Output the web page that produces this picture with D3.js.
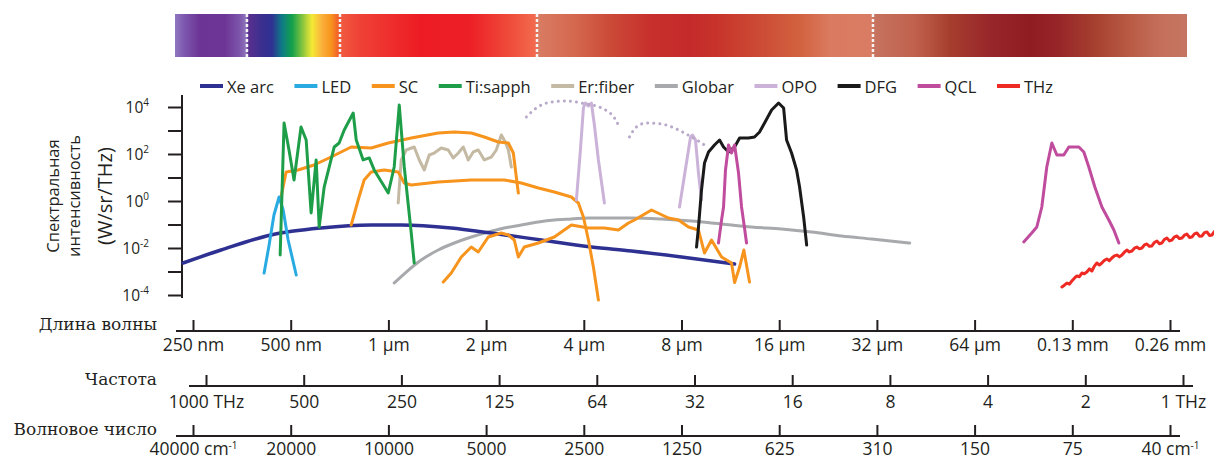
<!DOCTYPE html>
<html><head><meta charset="utf-8">
<script src="https://cdn.jsdelivr.net/npm/d3@7"></script>
<style>
body{margin:0;background:#fff;}
svg{display:block;}
</style></head><body>
<svg id="chart" width="1214" height="462"></svg>
<script>
// ---------------- DATA ----------------
const seriesNames  = ["Xe arc","LED","SC","Ti:sapph","Er:fiber","Globar","OPO","DFG","QCL","THz"];
const seriesColors = ["#2e3192","#29abe2","#f7941d","#1f9e4a","#c4b9a2","#a7a9ac","#cbb2d8","#1a1a1a","#c04c9e","#ee2a24"];

// wavelength in µm, spectral intensity in W/sr/THz
const xeArc = [[0.233,2.3e-3],[0.305,8.2e-3],[0.435,3.6e-2],[0.62,7.1e-2],[0.885,9.5e-2],[1.095,9.5e-2],[1.56,7.1e-2],[2.07,4.35e-2],[2.96,2.19e-2],[4.22,1.1e-2],[5.61,7.45e-3],[8.0,4.14e-3],[11.66,2.08e-3]];
const led = [[0.414,8.6e-4],[0.429,1.34e-2],[0.444,0.254],[0.4605,1.48],[0.474,0.414],[0.491,2.19e-2],[0.52,7.1e-4]];
const scUpper = [[0.467,1.48],[0.484,17.1],[0.527,20.8],[0.59,34],[0.666,74.5],[0.768,199],[0.885,180],[0.999,294],[1.176,480],[1.424,783],[1.596,863],[1.80,783],[1.975,528],[2.181,324],[2.342,294],[2.426,110],[2.478,10.5],[2.514,2.19]];
const scMiddle = [[0.768,0.0953],[0.807,1.10],[0.842,7.83],[0.885,17.1],[0.971,20.8],[1.072,17.1],[1.119,5.83],[1.176,4.80],[1.424,6.44],[1.80,7.83],[2.276,7.83],[2.568,5.83],[2.898,3.57],[3.246,2.41],[3.663,1.48],[3.849,0.822],[3.989,0.208],[4.133,0.0219],[4.282,1.55e-3],[4.437,6.1e-5]];
const scLower = [[1.476,3.57e-4],[1.562,8.6e-4],[1.677,4.14e-3],[1.80,0.011],[1.892,6.76e-3],[2.031,0.0294],[2.228,0.0435],[2.342,0.0357],[2.443,0.0219],[2.514,4.14e-3],[2.623,0.011],[2.898,0.0163],[3.246,0.0294],[3.412,0.048],[3.663,0.0953],[4.133,0.071],[4.63,0.071],[5.114,0.0583],[5.491,0.116],[5.73,0.155],[6.466,0.414],[7.295,0.189],[7.831,0.155],[8.407,0.0783],[9.025,0.0583],[9.418,6.1e-3],[9.898,0.0219],[10.63,4.14e-3],[11.41,2.3e-3],[11.66,3.4e-4],[12.08,1.55e-3],[12.45,8.2e-3],[12.96,3.57e-4]];
const tiSapph = [[0.464,5.0e-3],[0.477,2100],[0.494,148],[0.512,7.8],[0.538,1400],[0.558,394],[0.578,0.31],[0.599,56],[0.612,0.078],[0.634,3.9],[0.681,199],[0.705,294],[0.731,1050],[0.779,5560],[0.796,394],[0.836,56],[0.873,68],[0.904,21],[0.999,2.19],[1.042,28],[1.080,12160],[1.119,28],[1.176,0.0435],[1.201,2.3e-3]];
const erFiber = [[1.072,0.822],[1.095,55.6],[1.135,148],[1.201,199],[1.245,55.6],[1.29,20.8],[1.336,90.6],[1.384,110],[1.455,180],[1.529,148],[1.584,67.6],[1.642,110],[1.701,199],[1.762,55.6],[1.826,122],[1.892,148],[1.975,55.6],[2.075,74.5],[2.15,148],[2.228,644],[2.292,324],[2.342,148],[2.392,28]];
const globar = [[1.042,3.24e-4],[1.135,9.5e-4],[1.262,3.08e-3],[1.424,8.2e-3],[1.596,0.0163],[1.80,0.0294],[2.031,0.048],[2.276,0.071],[2.568,0.0953],[2.898,0.128],[3.246,0.155],[3.663,0.171],[4.133,0.189],[4.865,0.189],[5.61,0.189],[6.94,0.171],[8.589,0.141],[10.63,0.105],[13.15,0.0783],[16.27,0.0644],[20.14,0.048],[24.92,0.0324],[30.83,0.0242],[40.39,0.0163]];
const opoPeakA = [[3.795,1.10],[3.905,148],[3.989,9060],[4.045,14800],[4.133,11000],[4.222,14800],[4.312,1714],[4.437,55.6],[4.63,0.822]];
const opoPeakB = [[7.888,0.556],[8.173,12.8],[8.407,148],[8.528,528],[8.65,644],[8.836,394],[9.025,15.5],[9.22,1.10]];
const opoTuneA = [[2.661,3750],[2.857,9060],[3.178,16300],[3.535,18000],[3.932,14800],[4.532,9060],[4.971,3400],[5.151,1409]];
const opoTuneB = [[5.53,528],[5.81,1409],[6.24,2085],[6.94,1890],[7.72,1159],[8.589,528],[9.22,294],[9.69,180]];
const dfg = [[8.9,0.011],[9.025,0.0783],[9.22,2.94],[9.418,41.4],[9.69,122],[10.11,242],[10.48,394],[10.78,199],[11.17,122],[11.66,199],[12.08,480],[12.87,480],[13.43,528],[13.92,863],[14.42,2085],[15.16,7450],[15.93,14800],[16.51,9060],[16.86,394],[17.47,110],[18.1,20.8],[18.49,3.94],[19.03,0.208],[19.44,0.0134]];
const qclA = [[10.40,0.0163],[10.63,0.155],[10.78,0.556],[10.93,20.8],[11.17,242],[11.41,110],[11.66,242],[11.99,15.5],[12.25,0.556],[12.51,0.071],[12.69,0.0163]];
const qclB = [[90.7,0.018],[96.0,0.0435],[99.5,0.0783],[103.1,0.556],[106.8,28],[110.7,294],[114.7,90.6],[120.5,90.6],[124.9,199],[134.1,199],[138.9,122],[143.9,28],[150.2,3.94],[157.9,0.556],[165.9,0.155],[171.9,0.0583],[178.1,0.0163]];
const thz = [[118.9,2.19e-4],[121.0,2.6e-4],[123.2,3.24e-4],[125.4,2.9e-4],[127.6,3.94e-4],[129.9,5.2e-4],[132.2,6.44e-4],[134.6,6.0e-4],[137.0,8.6e-4],[139.4,8.0e-4],[141.9,9.5e-4],[144.5,1.3e-3],[147.1,1.05e-3],[149.7,1.7e-3],[152.4,2.3e-3],[155.1,1.9e-3],[157.9,2.3e-3],[160.7,3.0e-3],[163.6,3.4e-3],[166.5,2.9e-3],[169.5,3.75e-3],[172.5,4.6e-3],[175.6,5.0e-3],[178.8,4.2e-3],[182.0,5.0e-3],[185.2,6.6e-3],[188.5,8.2e-3],[191.9,6.8e-3],[195.4,7.45e-3],[198.9,9.8e-3],[202.4,0.011],[206.0,0.0092],[209.7,0.010],[213.5,0.0135],[217.3,0.0148],[221.2,0.0118],[225.1,0.0122],[229.2,0.0172],[233.3,0.0199],[237.5,0.0152],[241.7,0.0163],[246.0,0.0231],[250.4,0.0267],[254.9,0.0201],[259.5,0.0219],[264.2,0.0298],[268.9,0.0324],[273.7,0.0251],[278.6,0.0267],[283.6,0.0352],[288.7,0.0394],[293.8,0.0282],[299.1,0.0294],[304.5,0.0401],[309.9,0.0435],[315.5,0.0318],[321.1,0.0324],[326.9,0.0452],[332.7,0.048],[338.7,0.0341],[344.7,0.0357],[352.1,0.0528]];

// tick values / labels
const yTickValues = [1e4,1e3,1e2,1e1,1e0,1e-1,1e-2,1e-3,1e-4];
const wavelengthTicks  = [0.25,0.5,1,2,4,8,16,32,64,128,256];
const wavelengthLabels = ["250 nm","500 nm","1 µm","2 µm","4 µm","8 µm","16 µm","32 µm","64 µm","0.13 mm","0.26 mm"];
const frequencyLabels  = ["1000 THz","500","250","125","64","32","16","8","4","2","1 THz"];
const wavenumberLabels = ["40000 cm","20000","10000","5000","2500","1250","625","310","150","75","40 cm"];

// ---------------- STYLE / LAYOUT ----------------
const SANS = "'Open Sans', sans-serif";
const SERIF = "'DejaVu Serif', serif";
const INK = "#231f20";
const svg = d3.select("#chart");

const x = d3.scaleLog().base(2).domain([0.25,256]).range([193,1170]);
const y = d3.scaleLog().domain([1e-4,1e4]).range([295,107]);

// ---- spectrum bar ----
const bar = {x0:175, x1:1187, y0:14, y1:57};
const barStops = [
 [0,"#9077c0"],[.0099,"#7c55ad"],[.0247,"#6c3495"],[.0494,"#6d3596"],[.0642,"#7d57ab"],[.0711,"#9178bf"],
 [.0721,"#5b2f8e"],[.0860,"#3a2f8f"],[.0958,"#2e3192"],[.1057,"#0f7a86"],[.1156,"#12a04a"],[.1265,"#8cc63f"],[.1354,"#f4ea35"],[.1453,"#fbb03b"],[.1542,"#f7941d"],[.1621,"#f15a29"],
 [.1640,"#f05a40"],[.1828,"#ef4136"],[.2421,"#ed1c24"],[.2915,"#ed1f26"],[.3310,"#ef4c3a"],[.3567,"#f26b4f"],
 [.3587,"#d97b63"],[.3953,"#d4684e"],[.4298,"#cb4a38"],[.4694,"#c7302c"],[.5089,"#c42a2a"],[.5385,"#c8352b"],[.5781,"#cc4b35"],[.6176,"#d2623f"],[.6472,"#da7a60"],[.6887,"#d97c63"],
 [.6907,"#c6735f"],[.7312,"#c0614d"],[.7658,"#a63e2e"],[.8053,"#97262a"],[.8449,"#8f1c20"],[.8745,"#972629"],[.9091,"#a6402f"],[.9437,"#b95b45"],[.9733,"#c46f5b"],[1,"#c57662"]];
const barDividers = [.0711,.1630,.3577,.6897];
const grad = svg.append("defs").append("linearGradient").attr("id","spec").attr("x1","0").attr("x2","1").attr("y1","0").attr("y2","0");
grad.selectAll("stop").data(barStops).join("stop").attr("offset",d=>d[0]).attr("stop-color",d=>d[1]);
svg.append("rect").attr("x",bar.x0).attr("y",bar.y0).attr("width",bar.x1-bar.x0).attr("height",bar.y1-bar.y0).attr("fill","url(#spec)");
svg.selectAll(".div").data(barDividers).join("line")
  .attr("x1",d=>bar.x0+d*(bar.x1-bar.x0)).attr("x2",d=>bar.x0+d*(bar.x1-bar.x0))
  .attr("y1",bar.y0).attr("y2",bar.y1+3).attr("stroke","#f4f4f4").attr("stroke-width",2.5).attr("stroke-dasharray","3,2");

// ---- legend ----
const legendY = 86, legendX0 = 200, legendX1 = 1053, lineLen = 23, lineGap = 4;
const lg = svg.append("g");
const items = seriesNames.map((n,i)=>{
  const g = lg.append("g");
  const t = g.append("text").text(n).attr("font-family",SANS).attr("font-size",16.5).attr("fill",INK)
     .attr("dominant-baseline","central").attr("y",legendY);
  return {g,t,w:t.node().getComputedTextLength(),i};
});
const totalW = d3.sum(items,d=>d.w+lineLen+lineGap);
const gap = (legendX1-legendX0-totalW)/(items.length-1);
let cx = legendX0;
items.forEach(it=>{
  it.g.insert("line","text").attr("x1",cx).attr("x2",cx+lineLen).attr("y1",legendY).attr("y2",legendY)
     .attr("stroke",seriesColors[it.i]).attr("stroke-width",4);
  it.t.attr("x",cx+lineLen+lineGap);
  cx += lineLen+lineGap+it.w+gap;
});

// ---- y axis ----
const yAxisX = 182;
const yg = svg.append("g").attr("transform",`translate(${yAxisX},0)`)
  .call(d3.axisLeft(y).tickValues(yTickValues).tickSize(14).tickSizeOuter(0).tickFormat(""));
yg.select(".domain").remove();
yg.selectAll(".tick line").attr("stroke",INK).attr("stroke-width",2);
svg.append("line").attr("x1",yAxisX).attr("x2",yAxisX).attr("y1",95).attr("y2",298).attr("stroke",INK).attr("stroke-width",2);
yTickValues.filter((d,i)=>i%2===0).forEach(v=>{
  const e = Math.round(Math.log10(v));
  const t = svg.append("text").attr("x",yAxisX-33).attr("y",y(v)+6).attr("text-anchor","end")
    .attr("font-family",SANS).attr("font-size",15.5).attr("fill",INK);
  t.append("tspan").text("10");
  t.append("tspan").attr("dy",-7).attr("font-size",10).text(String(e));
});
// y title
const yTitle = [["Спектральная",52,16.5],["интенсивность",73,16.5],["(W/sr/THz)",104,20]];
yTitle.forEach(([s,xx,fs])=>{
  svg.append("text").attr("transform",`translate(${xx},196) rotate(-90)`).attr("text-anchor","middle")
    .attr("dominant-baseline","central").attr("font-family",SANS).attr("font-size",fs).attr("fill",INK).text(s);
});

// ---- bottom axes ----
function bottomAxis(scale, values, labels, yy, pad, lineX0, lineX1, title, supEnds){
  const g = svg.append("g").attr("transform",`translate(0,${yy})`)
    .call(d3.axisBottom(scale).tickValues(values).tickSize(-11).tickSizeOuter(0).tickPadding(pad)
      .tickFormat((d,i)=>labels[i]));
  g.select(".domain").remove();
  g.selectAll(".tick line").attr("stroke",INK).attr("stroke-width",2);
  g.selectAll(".tick text").attr("font-family",SANS).attr("font-size",17.5).attr("fill",INK);
  if(supEnds){
    g.selectAll(".tick text").each(function(d,i){
      if(i===0||i===labels.length-1){
        d3.select(this).append("tspan").attr("dy",-6).attr("font-size",10).text("-1");
      }
    });
  }
  svg.append("line").attr("x1",lineX0).attr("x2",lineX1).attr("y1",yy).attr("y2",yy).attr("stroke",INK).attr("stroke-width",2);
  svg.append("text").attr("x",157).attr("y",yy-1).attr("text-anchor","end").attr("font-family",SERIF)
    .attr("font-size",17).attr("fill",INK).text(title);
}
bottomAxis(x, wavelengthTicks, wavelengthLabels, 331, 8, 176, 1180, "Длина волны", false);
const xFreq = d3.scalePoint().domain(frequencyLabels).range([206,1183]);
bottomAxis(xFreq, frequencyLabels, frequencyLabels, 386, 10, 189, 1193, "Частота", false);
const xWn = d3.scalePoint().domain(wavenumberLabels).range([193,1170]);
bottomAxis(xWn, wavenumberLabels, wavenumberLabels, 436, 7, 176, 1180, "Волновое число", true);

// ---- curves ----
const line = d3.line().x(d=>x(d[0])).y(d=>y(d[1]));
const smooth = d3.line().x(d=>x(d[0])).y(d=>y(d[1])).curve(d3.curveMonotoneX);
const curves = [
  [globar,5,smooth,3],
  [xeArc,0,smooth,3.5],
  [erFiber,4,line,3],
  [scUpper,2,line,3],
  [scMiddle,2,line,3],
  [scLower,2,line,3],
  [led,1,line,3],
  [tiSapph,3,line,3],
  [opoPeakA,6,line,3],
  [opoPeakB,6,line,3],
  [dfg,7,line,3],
  [qclA,8,line,3],
  [qclB,8,line,3],
  [thz,9,line,3]
];
const cg = svg.append("g");
curves.forEach(([data,ci,gen,w])=>{
  cg.append("path").attr("d",gen(data)).attr("fill","none").attr("stroke",seriesColors[ci])
    .attr("stroke-width",w).attr("stroke-linejoin","round").attr("stroke-linecap","round");
});
[opoTuneA,opoTuneB].forEach(data=>{
  cg.append("path").attr("d",smooth(data)).attr("fill","none").attr("stroke","#b9a9c9")
    .attr("stroke-width",3).attr("stroke-dasharray","0.1,6").attr("stroke-linecap","round");
});
</script>
</body></html>
